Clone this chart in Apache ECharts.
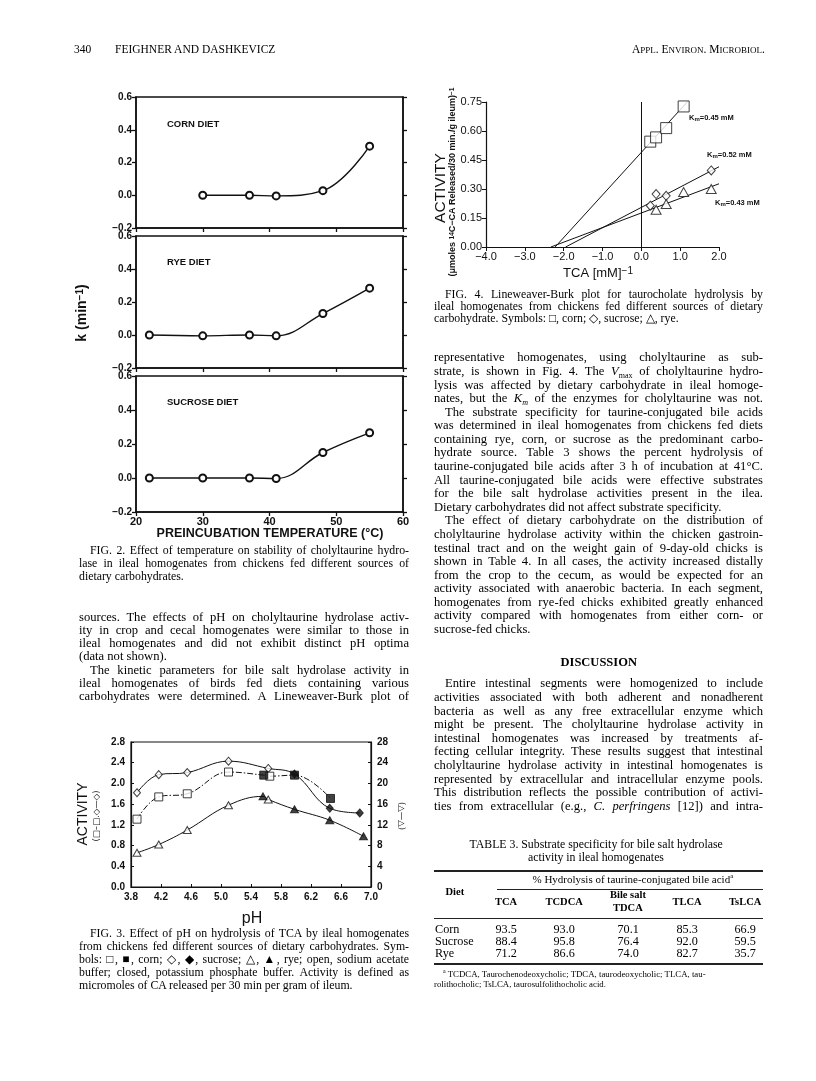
<!DOCTYPE html>
<html><head><meta charset="utf-8">
<script src="https://cdn.jsdelivr.net/npm/echarts@6/dist/echarts.min.js"></script>
<style>
html,body{margin:0;padding:0;background:#fff;}
#page{position:relative;width:816px;height:1081px;overflow:hidden;background:#fff;}
#chart{position:absolute;left:0;top:0;width:816px;height:1081px;}
.t{position:absolute;white-space:nowrap;font-family:'Liberation Serif','Times New Roman',serif;color:#000;}
.t sup,.t sub{line-height:0;}
.rule{position:absolute;background:#222;}
</style></head><body>
<div id="page"><div id="chart"></div></div>
<script>
// ---------- DATA ----------
// Fig. 2: stability (k, min^-1) vs preincubation temperature (°C)
const tempCorn = [30, 37, 41, 48, 55];
const kCorn = [0.0, 0.0, -0.004, 0.028, 0.300];
const tempRye = [22, 30, 37, 41, 48, 55];
const kRye = [0.0, -0.005, 0.0, -0.005, 0.130, 0.284];
const tempSucrose = [22, 30, 37, 41, 48, 55];
const kSucrose = [0.0, 0.0, 0.0, -0.003, 0.150, 0.266];
const dietLabels = ['CORN DIET', 'RYE DIET', 'SUCROSE DIET'];

// Fig. 3: activity vs pH (open = acetate buffer, closed = phosphate buffer)
const phTicks = [3.8, 4.2, 4.6, 5.0, 5.4, 5.8, 6.2, 6.6, 7.0];
const phCornOpen = [3.88, 4.17, 4.55, 5.10, 5.65];
const actCornOpen = [1.31, 1.74, 1.80, 2.22, 2.14];
const phCornClosed = [5.57, 5.98, 6.46];
const actCornClosed = [2.16, 2.16, 1.71];
const phSucroseOpen = [3.88, 4.17, 4.55, 5.10, 5.63];
const actSucroseOpen = [1.82, 2.17, 2.21, 2.43, 2.29];
const phSucroseClosed = [5.98, 6.45, 6.85];
const actSucroseClosed = [2.18, 1.52, 1.43];
const phRyeOpen = [3.88, 4.17, 4.55, 5.10, 5.63];
const actRyeOpen = [6.6, 8.2, 11.0, 15.8, 16.9];
const phRyeClosed = [5.56, 5.98, 6.45, 6.90];
const actRyeClosed = [17.5, 15.0, 12.9, 9.8];

// Fig. 4: Lineweaver-Burk
const invTcaCorn = [0.23, 0.38, 0.64, 1.09];
const invActCorn = [0.545, 0.567, 0.615, 0.727];
const invTcaSucrose = [0.23, 0.38, 0.64, 1.80];
const invActSucrose = [0.214, 0.274, 0.265, 0.396];
const invTcaRye = [0.38, 0.64, 1.09, 1.80];
const invActRye = [0.193, 0.222, 0.284, 0.300];
const fitCornX = [-2.22, 1.25], fitCornY = [0, 0.765];
const fitSucroseX = [-1.95, 2.0], fitSucroseY = [0, 0.415];
const fitRyeX = [-2.33, 2.0], fitRyeY = [0, 0.327];
const kmLabels = ['0.45', '0.52', '0.43'];

// Table 3
const tableCols = ['TCA', 'TCDCA', 'Bile salt|TDCA', 'TLCA', 'TsLCA'];
const tableRows = ['Corn', 'Sucrose', 'Rye'];
const tableCorn = [93.5, 93.0, 70.1, 85.3, 66.9];
const tableSucrose = [88.4, 95.8, 76.4, 92.0, 59.5];
const tableRye = [71.2, 86.6, 74.0, 82.7, 35.7];

// ---------- CHART ----------
const zip = (a, b) => a.map((v, i) => [v, b[i]]);
const merged = (xa, ya, xb, yb) => zip(xa, ya).concat(zip(xb, yb)).sort((p, q) => p[0] - q[0]);
const minus = s => s.replace('-', '\u2212');
const SANS = "'Liberation Sans', Arial, sans-serif";
const BLACK = '#111';

function valAxis(o) {
  return Object.assign({
    type: 'value', splitLine: { show: false },
    axisLine: { show: true, onZero: false, lineStyle: { color: BLACK, width: 1.5 } },
    axisTick: { show: true, inside: false, length: 4, lineStyle: { color: BLACK, width: 1.3 } },
    axisLabel: { color: BLACK, fontFamily: SANS, fontSize: 10, fontWeight: 'bold', margin: 4 }
  }, o);
}

const panelTops = [97, 236, 376], panelHeights = [131, 132, 136];
const grids = [];
const xAxes = [], yAxes = [];
panelTops.forEach((t, i) => {
  grids.push({ left: 136, top: t, width: 267, height: panelHeights[i], show: true, borderColor: BLACK, borderWidth: 1.5, backgroundColor: 'transparent' });
  xAxes.push(valAxis({ gridIndex: i, min: 20, max: 60, interval: 10,
    axisLabel: { show: i === 2, color: BLACK, fontFamily: SANS, fontSize: 11, fontWeight: 'bold', margin: 4 } }));
  yAxes.push(valAxis({ gridIndex: i, min: -0.2, max: 0.6, interval: 0.2,
    axisLabel: { color: BLACK, fontFamily: SANS, fontSize: 10, fontWeight: 'bold', margin: 4, formatter: v => minus(v.toFixed(1)) } }));
  yAxes.push(valAxis({ gridIndex: i, position: 'right', min: -0.2, max: 0.6, interval: 0.2, axisLabel: { show: false } }));
});
// Fig 4 grid (index 3)
grids.push({ left: 486, top: 102, width: 233, height: 145 });
xAxes.push(valAxis({ gridIndex: 3, min: -4, max: 2, interval: 1,
  axisLine: { show: true, onZero: false, lineStyle: { color: BLACK, width: 1.2 } },
  axisTick: { show: true, length: 4, lineStyle: { color: BLACK, width: 1 } },
  axisLabel: { color: BLACK, fontFamily: SANS, fontSize: 11, margin: 4, formatter: v => minus(v.toFixed(1)) } }));
yAxes.push(valAxis({ gridIndex: 3, min: 0, max: 0.75, interval: 0.15,
  axisLine: { show: true, onZero: false, lineStyle: { color: BLACK, width: 1.2 } },
  axisTick: { show: true, length: 4, lineStyle: { color: BLACK, width: 1 } },
  axisLabel: { color: BLACK, fontFamily: SANS, fontSize: 11, margin: 4, formatter: v => v.toFixed(2) } }));
// Fig 3 grid (index 4)
grids.push({ left: 131, top: 742, width: 240, height: 145, show: true, borderColor: BLACK, borderWidth: 1.2, backgroundColor: 'transparent' });
xAxes.push(valAxis({ gridIndex: 4, min: 3.8, max: 7.0, interval: 0.4,
  axisLine: { show: true, onZero: false, lineStyle: { color: BLACK, width: 1.2 } },
  axisTick: { show: true, inside: true, length: 3, customValues: phTicks, lineStyle: { color: BLACK, width: 1 } },
  axisLabel: { color: BLACK, fontFamily: SANS, fontSize: 10, fontWeight: 'bold', margin: 5, customValues: phTicks, formatter: v => v.toFixed(1) } }));
yAxes.push(valAxis({ gridIndex: 4, min: 0, max: 2.8, interval: 0.4,
  axisLine: { show: true, onZero: false, lineStyle: { color: BLACK, width: 1.2 } },
  axisTick: { show: true, inside: true, length: 3, lineStyle: { color: BLACK, width: 1 } },
  axisLabel: { color: BLACK, fontFamily: SANS, fontSize: 10, fontWeight: 'bold', margin: 6, formatter: v => v.toFixed(1) } }));
yAxes.push(valAxis({ gridIndex: 4, position: 'right', min: 0, max: 28, interval: 4,
  axisLine: { show: true, onZero: false, lineStyle: { color: BLACK, width: 1.2 } },
  axisTick: { show: true, inside: true, length: 3, lineStyle: { color: BLACK, width: 1 } },
  axisLabel: { color: BLACK, fontFamily: SANS, fontSize: 10, fontWeight: 'bold', margin: 6 } }));

const series = [];
[[tempCorn, kCorn], [tempRye, kRye], [tempSucrose, kSucrose]].forEach((d, i) => {
  series.push({ type: 'line', xAxisIndex: i, yAxisIndex: i * 2, data: zip(d[0], d[1]), smooth: 0.4,
    symbol: 'emptyCircle', symbolSize: 7, lineStyle: { color: BLACK, width: 1.4 },
    itemStyle: { color: BLACK, borderColor: BLACK, borderWidth: 1.4 } });
});
// Fig 4
function fitLine(xs, ys, extra) {
  return Object.assign({ type: 'line', xAxisIndex: 3, yAxisIndex: 6, data: zip(xs, ys), symbol: 'none',
    lineStyle: { color: BLACK, width: 1 } }, extra || {});
}
series.push(fitLine(fitCornX, fitCornY, { markLine: { silent: true, symbol: 'none', label: { show: false },
  lineStyle: { color: BLACK, width: 1, type: 'solid' }, data: [{ xAxis: 0 }] } }));
series.push(fitLine(fitSucroseX, fitSucroseY));
series.push(fitLine(fitRyeX, fitRyeY));
function pts(xi, yi, data, symbol, size, filled) {
  return { type: 'scatter', xAxisIndex: xi, yAxisIndex: yi, data, symbol, symbolSize: size, z: 5,
    itemStyle: { color: filled ? BLACK : '#fff', borderColor: BLACK, borderWidth: 1 } };
}
series.push(pts(3, 6, zip(invTcaCorn, invActCorn), 'rect', 11, false));
series.push(pts(3, 6, zip(invTcaSucrose, invActSucrose), 'diamond', [8, 9], false));
series.push(pts(3, 6, zip(invTcaRye, invActRye), 'triangle', [10, 9], false));
// Fig 3
series.push({ type: 'line', xAxisIndex: 4, yAxisIndex: 7, data: merged(phSucroseOpen, actSucroseOpen, phSucroseClosed, actSucroseClosed),
  smooth: 0.4, symbol: 'none', lineStyle: { color: BLACK, width: 1 } });
series.push({ type: 'line', xAxisIndex: 4, yAxisIndex: 7, data: merged(phCornOpen, actCornOpen, phCornClosed, actCornClosed),
  smooth: 0.4, symbol: 'none', lineStyle: { color: BLACK, width: 1, type: [6, 2, 1.5, 2] } });
series.push({ type: 'line', xAxisIndex: 4, yAxisIndex: 8, data: merged(phRyeOpen, actRyeOpen, phRyeClosed, actRyeClosed),
  smooth: 0.4, symbol: 'none', lineStyle: { color: BLACK, width: 1 } });
series.push(pts(4, 7, zip(phSucroseOpen, actSucroseOpen), 'diamond', [7, 8], false));
series.push(pts(4, 7, zip(phSucroseClosed, actSucroseClosed), 'diamond', [7, 8], true));
series.push(pts(4, 7, zip(phCornOpen, actCornOpen), 'rect', 8, false));
series.push(pts(4, 7, zip(phCornClosed, actCornClosed), 'rect', 8, true));
series.push(pts(4, 8, zip(phRyeOpen, actRyeOpen), 'triangle', [8, 7], false));
series.push(pts(4, 8, zip(phRyeClosed, actRyeClosed), 'triangle', [8, 7], true));

function gtext(x, y, text, o) {
  o = o || {};
  return { type: 'text', x, y, rotation: o.rot || 0, z: 10,
    style: { text, x: 0, y: 0, align: o.align || 'center', verticalAlign: 'middle', fill: BLACK,
      fontFamily: o.family || SANS, fontSize: o.size || 10, fontWeight: o.weight || 'normal', rich: o.rich } };
}
const supRich = (size, weight) => ({ sup: { fontSize: size, fontWeight: weight, fontFamily: SANS, fill: BLACK, verticalAlign: 'top' },
  sub: { fontSize: size, fontWeight: weight, fontFamily: SANS, fill: BLACK, verticalAlign: 'bottom' } });
const graphics = [];
dietLabels.forEach((lab, i) => graphics.push(gtext(167, [124, 262, 402][i], lab, { align: 'left', size: 9.5, weight: 'bold' })));
graphics.push(gtext(82, 313, 'k (min{sup|\u22121})', { rot: Math.PI / 2, size: 14, weight: 'bold', rich: supRich(10, 'bold') }));
graphics.push(gtext(270, 534, 'PREINCUBATION TEMPERATURE (\u00B0C)', { size: 12.5, weight: 'bold' }));
// Fig 4 texts
graphics.push(gtext(441, 188, 'ACTIVITY', { rot: Math.PI / 2, size: 15.5 }));
graphics.push(gtext(453, 182, '(\u03BCmoles {sup|14}C\u2212CA Released/30 min./g ileum){sup|\u22121}', { rot: Math.PI / 2, size: 9, weight: 'bold', rich: supRich(6.5, 'bold') }));
graphics.push(gtext(598, 273, 'TCA [mM]{sup|\u22121}', { size: 13, rich: supRich(10, 'normal') }));
[[689, 118], [707, 155], [715, 203]].forEach((p, i) =>
  graphics.push(gtext(p[0], p[1], 'K{sub|m}=' + kmLabels[i] + ' mM', { align: 'left', size: 7.5, weight: 'bold', rich: supRich(6, 'bold') })));
// Fig 3 texts
graphics.push(gtext(83, 814, 'ACTIVITY', { rot: Math.PI / 2, size: 14 }));
graphics.push(gtext(97, 816, '(\u25A1\u2013\u25A1.\u25C7\u2014\u25C7)', { rot: Math.PI / 2, size: 8.5, family: "'DejaVu Sans', sans-serif" }));
graphics.push(gtext(401, 816, '(\u25B3\u2014\u25B3)', { rot: -Math.PI / 2, size: 8.5, family: "'DejaVu Sans', sans-serif" }));
graphics.push(gtext(252, 919, 'pH', { size: 16 }));

const chart = echarts.init(document.getElementById('chart'), null, { renderer: 'canvas' });
chart.setOption({ animation: false, backgroundColor: 'transparent', grid: grids, xAxis: xAxes, yAxis: yAxes, series, graphic: graphics });

// ---------- PAGE TEXT ----------
const page = document.getElementById('page');
function place(x, yc, w, html, size, mode, css) {
  const d = document.createElement('div');
  d.className = 't'; d.innerHTML = html;
  d.style.fontSize = size + 'px'; d.style.lineHeight = size + 'px';
  d.style.left = x + 'px'; d.style.top = (yc - size * 0.55) + 'px';
  if (css) Object.assign(d.style, css);
  page.appendChild(d);
  const nat = d.offsetWidth;
  if (mode === 'j') {
    if (nat < w) { d.style.width = w + 'px'; d.style.textAlign = 'justify'; d.style.textAlignLast = 'justify'; }
    else { d.style.transformOrigin = '0 0'; d.style.transform = 'scaleX(' + (w / nat) + ')'; }
  } else if (mode === 'c') d.style.left = (x - nat / 2) + 'px';
  else if (mode === 'r') d.style.left = (x - nat) + 'px';
  else if (nat > w) { d.style.transformOrigin = '0 0'; d.style.transform = 'scaleX(' + (w / nat) + ')'; }
  return d;
}
function para(x, w, y0, dy, size, lines) {
  lines.forEach((ln, i) => {
    const ind = ln[0] === '>' ? 11 : 0;
    const txt = ind ? ln.slice(1) : ln;
    const last = txt.endsWith('|');
    place(x + ind, y0 + i * dy, w - ind, last ? txt.slice(0, -1) : txt, size, last ? 'l' : 'j');
  });
}
// header
place(74, 50, 40, '340', 11.5, 'l');
place(115, 50, 300, 'FEIGHNER AND DASHKEVICZ', 11.5, 'l');
place(765, 50, 300, 'A<span style="font-size:9px">PPL</span>. E<span style="font-size:9px">NVIRON</span>. M<span style="font-size:9px">ICROBIOL</span>.', 11.5, 'r');

const L = 79, LW = 330, R = 434, RW = 329;
para(L, LW, 551.7, 12.65, 11.8, [
  '>FIG. 2. Effect of temperature on stability of cholyltaurine hydro-',
  'lase in ileal homogenates from chickens fed different sources of',
  'dietary carbohydrates.|']);
para(L, LW, 617.5, 13.3, 12.6, [
  'sources. The effects of pH on cholyltaurine hydrolase activ-',
  'ity in crop and cecal homogenates were similar to those in',
  'ileal homogenates and did not exhibit distinct pH optima',
  '(data not shown).|',
  '>The kinetic parameters for bile salt hydrolase activity in',
  'ileal homogenates of birds fed diets containing various',
  'carbohydrates were determined. A Lineweaver-Burk plot of']);
para(L, LW, 934.3, 13, 11.8, [
  '>FIG. 3. Effect of pH on hydrolysis of TCA by ileal homogenates',
  'from chickens fed different sources of dietary carbohydrates. Sym-',
  'bols: \u25A1, \u25A0, corn; \u25C7, \u25C6, sucrose; \u25B3, \u25B2, rye; open, sodium acetate',
  'buffer; closed, potassium phosphate buffer. Activity is defined as',
  'micromoles of CA released per 30 min per gram of ileum.|']);
para(R, RW, 295, 12.4, 11.8, [
  '>FIG. 4. Lineweaver-Burk plot for taurocholate hydrolysis by',
  'ileal homogenates from chickens fed different sources of dietary',
  'carbohydrate. Symbols: \u25A1, corn; \u25C7, sucrose; \u25B3, rye.|']);
const subm = t => '<span style="font-size:8px;position:relative;top:3px;line-height:0">' + t + '</span>';
para(R, RW, 358.3, 13.585, 12.6, [
  'representative homogenates, using cholyltaurine as sub-',
  'strate, is shown in Fig. 4. The <i>V</i>' + subm('max') + ' of cholyltaurine hydro-',
  'lysis was affected by dietary carbohydrate in ileal homoge-',
  'nates, but the <i>K</i>' + subm('<i>m</i>') + ' of the enzymes for cholyltaurine was not.',
  '>The substrate specificity for taurine-conjugated bile acids',
  'was determined in ileal homogenates from chickens fed diets',
  'containing rye, corn, or sucrose as the predominant carbo-',
  'hydrate source. Table 3 shows the percent hydrolysis of',
  'taurine-conjugated bile acids after 3 h of incubation at 41\u00B0C.',
  'All taurine-conjugated bile acids were effective substrates',
  'for the bile salt hydrolase activities present in the ilea.',
  'Dietary carbohydrates did not affect substrate specificity.|',
  '>The effect of dietary carbohydrate on the distribution of',
  'cholyltaurine hydrolase activity within the chicken gastroin-',
  'testinal tract and on the weight gain of 9-day-old chicks is',
  'shown in Table 4. In all cases, the activity increased distally',
  'from the crop to the cecum, as would be expected for an',
  'activity associated with anaerobic bacteria. In each segment,',
  'homogenates from rye-fed chicks exhibited greatly enhanced',
  'activity compared with homogenates from either corn- or',
  'sucrose-fed chicks.|']);
place(598.5, 662.7, 200, '<b>DISCUSSION</b>', 12.5, 'c');
para(R, RW, 684.3, 13.6, 12.6, [
  '>Entire intestinal segments were homogenized to include',
  'activities associated with both adherent and nonadherent',
  'bacteria as well as any free extracellular enzyme which',
  'might be present. The cholyltaurine hydrolase activity in',
  'intestinal homogenates was increased by treatments af-',
  'fecting cellular integrity. These results suggest that intestinal',
  'cholyltaurine hydrolase activity in intestinal homogenates is',
  'represented by extracellular and intracellular enzyme pools.',
  'This distribution reflects the possible contribution of activi-',
  'ties from extracellular (e.g., <i>C. perfringens</i> [12]) and intra-']);

// Table 3
place(596, 845.7, 400, 'TABLE 3. Substrate specificity for bile salt hydrolase', 11.8, 'c');
place(596, 858.3, 400, 'activity in ileal homogenates', 11.8, 'c');
function rule(x, y, w, h) { const r = document.createElement('div'); r.className = 'rule';
  Object.assign(r.style, { left: x + 'px', top: y + 'px', width: w + 'px', height: h + 'px' }); page.appendChild(r); }
rule(434, 869.5, 329, 2.2); rule(497, 888.5, 266, 1); rule(434, 917.5, 329, 1); rule(434, 962.5, 329, 2.2);
place(633, 880, 300, '% Hydrolysis of taurine-conjugated bile acid<sup style="font-size:7px">a</sup>', 11, 'c');
place(455, 893, 60, '<b>Diet</b>', 10.5, 'c');
const colX = [506, 564, 628, 687, 745];
tableCols.forEach((c, i) => {
  const parts = c.split('|');
  if (parts.length === 1) place(colX[i], 903, 80, '<b>' + c + '</b>', 10.5, 'c');
  else { place(colX[i], 896, 80, '<b>' + parts[0] + '</b>', 10.5, 'c'); place(colX[i], 908.5, 80, '<b>' + parts[1] + '</b>', 10.5, 'c'); }
});
[tableCorn, tableSucrose, tableRye].forEach((row, r) => {
  const y = 929.3 + r * 12.2;
  place(435, y, 80, tableRows[r], 12.2, 'l');
  row.forEach((v, i) => place(colX[i], y, 60, v.toFixed(1), 12.2, 'c'));
});
place(443, 975, 320, '<sup style="font-size:6px">a</sup> TCDCA, Taurochenodeoxycholic; TDCA, taurodeoxycholic; TLCA, tau-', 8.8, 'l');
place(434, 984.5, 320, 'rolithocholic; TsLCA, taurosulfolithocholic acid.', 8.8, 'l');
</script>
</body></html>
